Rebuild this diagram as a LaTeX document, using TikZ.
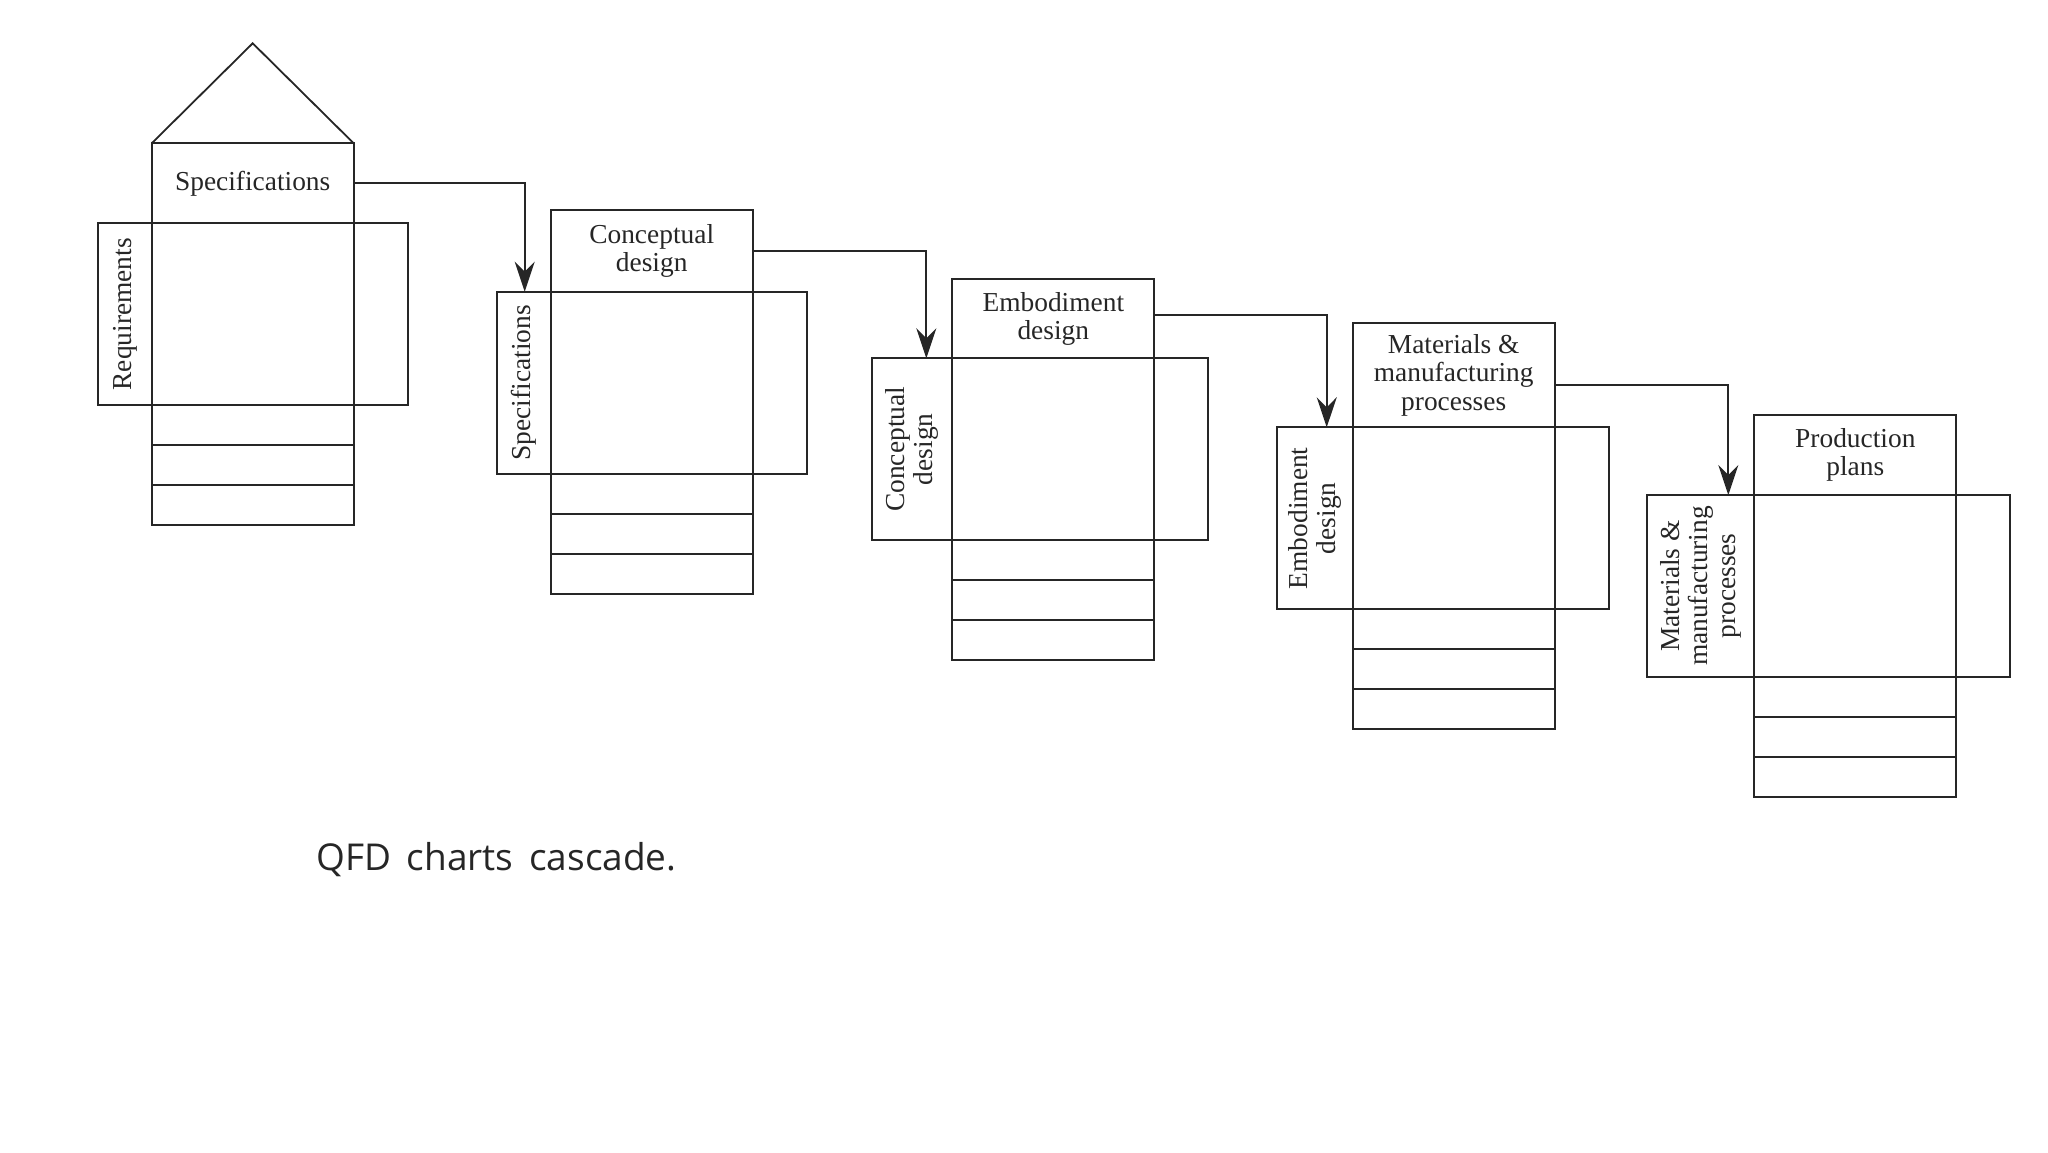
\documentclass[tikz,border=0pt]{standalone}
\usepackage{fontspec}
\setmainfont{Liberation Serif}
\newfontfamily\capfont{Open Sans}
\usetikzlibrary{positioning, calc, arrows.meta}
\definecolor{ink}{HTML}{262626}

\tikzset{
  box/.style={draw=ink, line width=0.9pt, inner sep=0pt, outer sep=0pt,
    text=ink, align=center, font=\fontsize{13.7}{14.2}\selectfont},
  cell/.style={box, minimum width=101pt, minimum height=20pt},
  lab/.style={inner sep=0pt, text=ink, align=center, font=\fontsize{13.7}{14.2}\selectfont},
  flow/.style={draw=ink, line width=0.9pt, -{Stealth[length=15pt, width=10pt, inset=5pt]}}
}

\begin{document}
\begin{tikzpicture}[x=0.5pt, y=-0.5pt]
  \useasboundingbox (0,0) rectangle (2048,1152);
  % one chart per step: top box, centre square, side strips, three rows
  \foreach \i/\x/\y/\lwd/\hgt/\toptxt/\sidetxt in {
      1/151.7/223.3/26.7/40/{Specifications}/{Requirements},
      2/550.7/291.7/26.7/41/{Conceptual\\design}/{Specifications},
      3/952.3/358.3/40.3/39.5/{Embodiment\\design}/{Conceptual\\design},
      4/1352.7/427.3/37.7/52/{Materials \&\\manufacturing\\processes}/{Embodiment\\design},
      5/1754.3/495/53.5/40/{Production\\plans}/{Materials \&\\manufacturing\\processes}}{
    \node[box, minimum width=101pt, minimum height=\hgt pt, anchor=south west] (h\i) at (\x,\y) {\toptxt};
    \node[box, minimum width=101pt, minimum height=91pt, anchor=north west] (m\i) at (h\i.south west) {};
    \node[box, minimum width=\lwd pt, minimum height=91pt, anchor=north east] (l\i) at (m\i.north west) {};
    \node[box, minimum width=27pt, minimum height=91pt, anchor=north west] (r\i) at (m\i.north east) {};
    \node[lab, rotate=90] (t\i) at (l\i.center) {\sidetxt};
    \node[cell, anchor=north] (a\i) at (m\i.south) {};
    \node[cell, below=0pt of a\i] (b\i) {};
    \node[cell, below=0pt of b\i] (c\i) {};
  }
  % roof of the first house
  \draw[draw=ink, line width=0.9pt] (h1.north west) -- ++(101,-100) -- (h1.north east);
  % cascade arrows
  \foreach \i/\j/\dy in {1/2/0, 2/3/0, 3/4/-4, 4/5/10}
    \draw[flow] ($(h\i.east)+(0,\dy)$) -| ($(h\j.south west)+(-26,0)$);
  \node[anchor=base west, text=ink, font=\capfont\fontsize{18.5}{20}\selectfont,
    inner sep=0pt] (cap) at (316,870) {QFD\hspace{3pt} charts\hspace{3pt} cascade.};
\end{tikzpicture}
\end{document}
